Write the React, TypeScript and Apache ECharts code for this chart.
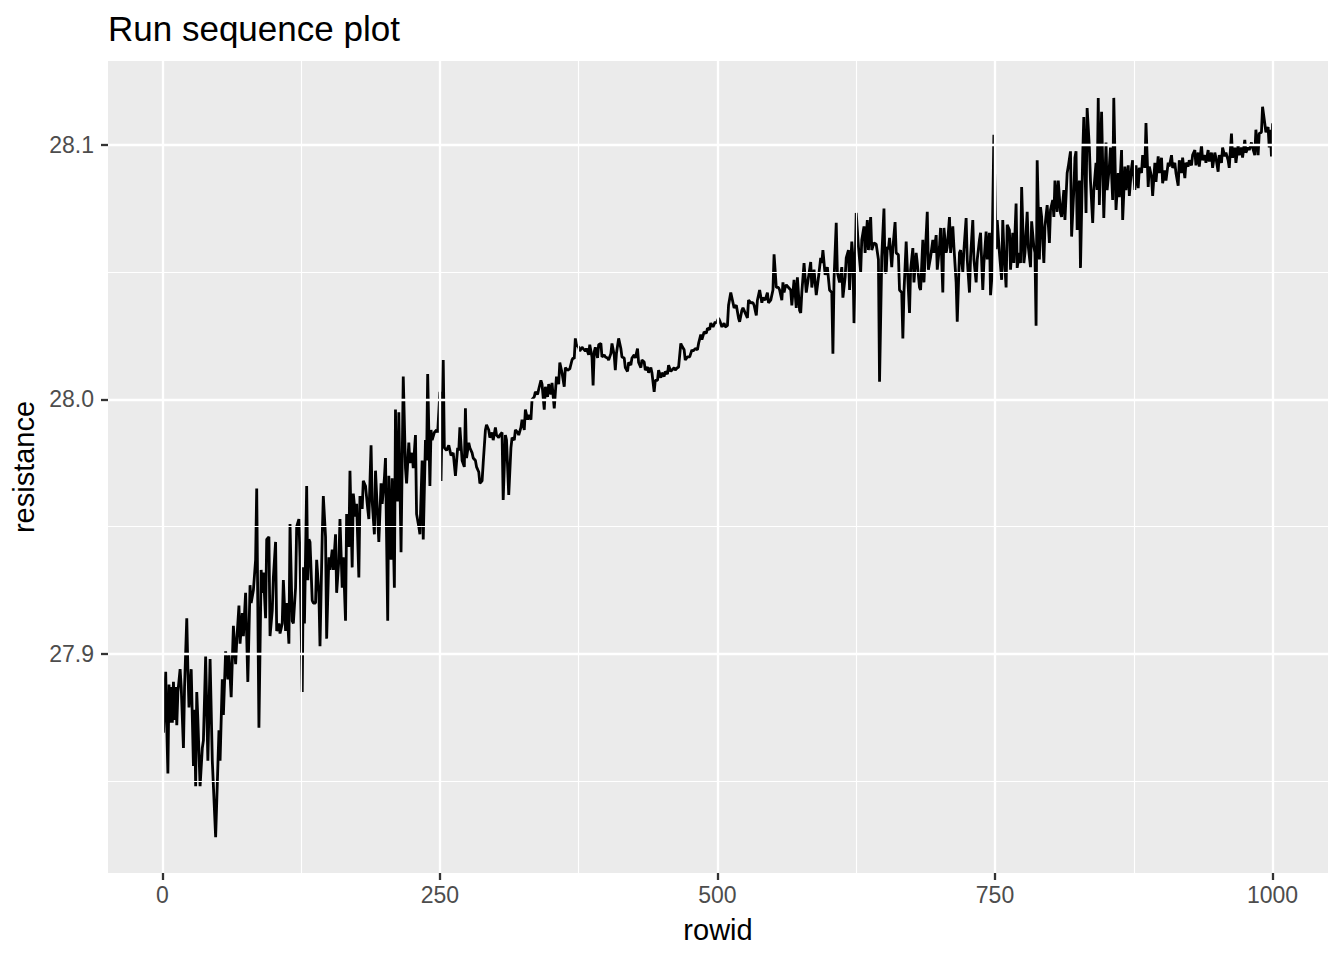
import React, { useEffect, useRef } from "react";
import * as echarts from "echarts";

// [rowid, resistance], split by range of rowid
const segA: [number, number][] = [
  [1,27.869],[3,27.893],[4,27.871],[5,27.853],[6,27.888],[7,27.873],[8,27.887],[9,27.873],[10,27.889],[11,27.874],
  [12,27.887],[13,27.872],[14,27.885],[16,27.894],[17,27.887],[19,27.863],[20,27.887],[22,27.914],[23,27.894],[24,27.879],
  [26,27.894],[28,27.856],[29,27.878],[30,27.848],[31,27.885],[32,27.874],[34,27.848],[36,27.863],[37,27.866],[39,27.899],
  [41,27.858],[43,27.898],[45,27.858],[48,27.828],[51,27.870],[52,27.858],[54,27.890],[55,27.876],[57,27.901],[59,27.890],
  [60,27.900],[62,27.883],[64,27.911],[66,27.896],[67,27.905],[69,27.919],[70,27.904],[72,27.916],[73,27.907],[75,27.924],
  [77,27.889],[79,27.927],[80,27.920],[82,27.925],[84,27.937],
  [85,27.965],[87,27.871],[89,27.933],[90,27.924],[91,27.932],[93,27.914],[94,27.945],[96,27.946],[97,27.907],[99,27.917],
  [100,27.930],[102,27.944],[103,27.909],[105,27.912],[106,27.908],[108,27.912],[109,27.929],[111,27.909],[112,27.920],[114,27.904],
  [115,27.951],[117,27.913],[118,27.912],[120,27.926],[121,27.950],[123,27.953],[124,27.938],[126,27.885],[127,27.934],[128,27.912],
  [130,27.966],[131,27.929],[132,27.945],[133,27.944],[135,27.921],[136,27.920],[138,27.920],[139,27.937],[141,27.924],[142,27.903],
  [144,27.946],[145,27.962],[147,27.946],[148,27.906],[150,27.938],[151,27.933],[153,27.941],[154,27.933],[156,27.947],[157,27.924],
  [159,27.937],[160,27.953],[162,27.926],[163,27.938],[165,27.913],[166,27.955],[168,27.942],[169,27.972],[171,27.934],[172,27.963],
  [174,27.954],[175,27.959],[177,27.930],[178,27.962],[180,27.957],[181,27.968],[183,27.966],[185,27.957],[186,27.953],[188,27.982],
  [189,27.960],[191,27.947],[192,27.972],[195,27.944],[197,27.967],[198,27.959],[200,27.969],[201,27.977],[203,27.913],[204,27.970],
  [206,27.937],[207,27.969],[209,27.926],[210,27.996],[211,27.963],[212,27.960],[213,27.995],[215,27.940],[217,28.009],[219,27.973],
  [220,27.967],[222,27.983],[223,27.975],[225,27.979],[226,27.973],[228,27.986],[229,27.955],[231,27.950],[232,27.947],[234,27.976],
  [235,27.945],[237,27.984],[238,27.976],[239,28.010],[241,27.966],[242,27.988],[243,27.984],[245,27.987],[247,27.988],[248,27.987],
  [250,28.003]
];

const segB: [number, number][] = [
  [251,27.968],[253,28.0155],[254,27.981],[256,27.980],[258,27.982],[260,27.978],[262,27.979],[264,27.970],[266,27.981],[267,27.980],
  [268,27.989],[270,27.976],[272,27.9735],[273,27.9965],[274,27.977],[276,27.983],[277,27.981],[279,27.979],[280,27.977],[282,27.976],
  [283,27.9735],[285,27.9715],[286,27.967],[288,27.968],[289,27.975],[291,27.988],[292,27.990],[294,27.988],[295,27.985],[297,27.987],
  [298,27.984],[300,27.989],[301,27.986],[303,27.985],[304,27.986],[306,27.987],[307,27.9605],[309,27.986],[310,27.984],[312,27.9625],
  [314,27.981],[315,27.985],[317,27.984],[318,27.988],[320,27.987],[321,27.986],[323,27.989],[324,27.992],[326,27.988],[327,27.996],
  [329,27.992],[330,27.994],[332,27.992],[333,28.000],[335,28.001],[336,28.003],[338,28.002],[339,28.004],[341,28.0075],[342,28.006],
  [344,27.996],[345,28.005],[347,28.001],[348,28.006],[350,28.002],[351,28.0065],[353,27.9965],[355,28.009],[357,28.006],[358,28.0145],
  [360,28.0105],[362,28.005],[363,28.0125],[365,28.0115],[367,28.012],[369,28.0155],[370,28.0163],[371,28.016],[372,28.024],[373,28.0215],
  [375,28.0205],[376,28.019],[378,28.0205],[379,28.020],[381,28.019],[382,28.020],[384,28.0175],[385,28.0215],[387,28.0167],[388,28.0055],
  [389,28.0187],[390,28.0205],[392,28.0163],[393,28.0215],[395,28.022],[396,28.0167],[398,28.0175],[399,28.0167],[401,28.0163],[402,28.0155],
  [404,28.018],[405,28.022],[407,28.0175],[408,28.0115],[409,28.018],[411,28.024],[413,28.020],[414,28.0167],[416,28.0163],[417,28.0125],
  [419,28.011],[420,28.0145],[422,28.0135],[423,28.0163],[425,28.0175],[426,28.0163],[428,28.020],[429,28.0145],[431,28.0125],[432,28.0155],
  [434,28.0147],[435,28.0115],[437,28.0127],[438,28.0105],[440,28.0125],[441,28.0105],[443,28.003],[444,28.0075],[446,28.0075],[447,28.0115],
  [449,28.0085],[450,28.0105],[452,28.009],[453,28.011],[455,28.010],[456,28.0135],[458,28.011],[459,28.0115],[461,28.0125],[462,28.0115],
  [464,28.0125],[465,28.0127],[467,28.022],[468,28.021],[470,28.0195],[471,28.0155],[473,28.0167],[475,28.0167],[477,28.0195],[478,28.019],
  [480,28.020],[482,28.0195],[483,28.022],[485,28.0255],[486,28.0235],[488,28.0265],[490,28.026],[491,28.028],[493,28.0275],[494,28.030],
  [496,28.0285],[498,28.0305],[499,28.030]
];

const segC: [number, number][] = [
  [501,28.032],[502,28.031],[504,28.0285],[506,28.030],[507,28.0285],[509,28.029],[510,28.037],[512,28.042],[514,28.038],[515,28.036],
  [517,28.037],[519,28.032],[520,28.0305],[522,28.035],[523,28.036],[525,28.034],[527,28.032],[528,28.039],[530,28.038],[532,28.038],
  [533,28.037],[535,28.033],[536,28.039],[538,28.043],[540,28.038],[541,28.040],[543,28.039],[545,28.042],[546,28.038],[548,28.039],
  [550,28.043],[551,28.057],[553,28.044],[555,28.044],[556,28.043],[558,28.039],[559,28.046],[560,28.042],[561,28.044],[562,28.045],
  [564,28.044],[566,28.043],[567,28.037],[569,28.047],[571,28.036],[572,28.048],[574,28.035],[575,28.034],[576,28.042],[578,28.0536],
  [580,28.042],[582,28.048],[584,28.054],[585,28.044],[587,28.051],[589,28.041],[591,28.048],[593,28.0556],[594,28.0536],[595,28.0587],
  [597,28.049],[599,28.052],[601,28.043],[603,28.042],[604,28.018],[605,28.047],[607,28.0694],[608,28.050],[610,28.046],[612,28.052],
  [613,28.040],[615,28.048],[616,28.0556],[618,28.0587],[619,28.043],[621,28.062],[622,28.056],[623,28.030],[625,28.0733],[627,28.060],
  [629,28.050],[630,28.0627],[632,28.068],[633,28.0576],[635,28.0705],[636,28.0587],[638,28.0717],[639,28.0587],[641,28.0615],[643,28.061],
  [645,28.055],[646,28.007],[648,28.056],[650,28.075],[651,28.050],[652,28.0497],[653,28.060],[654,28.059],[655,28.0635],[657,28.052],
  [658,28.0595],[660,28.0697],[661,28.0576],[663,28.0568],[664,28.043],[666,28.042],[667,28.024],[668,28.042],[670,28.062],[671,28.052],
  [673,28.034],[674,28.051],[676,28.0595],[677,28.046],[679,28.0576],[680,28.0536],[682,28.044],[683,28.043],[685,28.0627],[686,28.046],
  [688,28.0646],[689,28.0737],[690,28.051],[692,28.056],[694,28.0627],[695,28.0576],[697,28.0646],[698,28.051],[700,28.060],[701,28.0674],
  [703,28.042],[704,28.0674],[706,28.0576],[707,28.060],[709,28.0717],[710,28.0576],[712,28.068],[713,28.060],[715,28.046],[716,28.0305],
  [718,28.0576],[719,28.0587],[721,28.050],[722,28.0587],[724,28.0713],[725,28.055],[727,28.042],[728,28.056],[730,28.0705],[731,28.055],
  [733,28.046],[734,28.055],[736,28.0627],[737,28.0655],[739,28.043],[740,28.0536],[742,28.066],[743,28.055],[745,28.0655],[746,28.041],
  [747,28.047],[749,28.104]
];

const segD: [number, number][] = [
  [751,28.059],[752,28.0705],[753,28.064],[754,28.0576],[756,28.047],[757,28.0705],[758,28.0587],[760,28.044],[761,28.0686],[763,28.0666],
  [764,28.051],[766,28.0655],[767,28.0536],[769,28.077],[770,28.0517],[772,28.0576],[773,28.0536],[774,28.0835],[776,28.0536],[777,28.0576],
  [779,28.0737],[780,28.060],[782,28.052],[783,28.070],[785,28.060],[786,28.0576],[787,28.029],[788,28.094],[790,28.055],[791,28.0756],
  [792,28.0717],[794,28.0536],[795,28.068],[797,28.0764],[799,28.0615],[800,28.0745],[802,28.0784],[803,28.0717],[804,28.086],[806,28.0737],
  [807,28.086],[809,28.0733],[810,28.0717],[812,28.0823],[813,28.0705],[815,28.089],[816,28.0915],[818,28.0975],[819,28.064],[821,28.0823],
  [822,28.095],[823,28.0975],[824,28.0666],[826,28.086],[827,28.0517],[829,28.096],[830,28.111],[832,28.0733],[833,28.1145],[835,28.099],
  [836,28.086],[838,28.0694],[839,28.0823],[841,28.093],[842,28.0823],[843,28.1185],[844,28.0764],[846,28.113],[848,28.0713],[850,28.101],
  [851,28.0823],[853,28.0915],[854,28.099],[856,28.0784],[857,28.1185],[859,28.0745],[861,28.089],[862,28.0795],[864,28.098],[865,28.0705],
  [867,28.0915],[868,28.0823],[870,28.092],[871,28.080],[873,28.091],[874,28.094],[876,28.0823],[877,28.092],[879,28.083],[880,28.091],
  [882,28.089],[883,28.096],[885,28.091],[886,28.1086],[888,28.0835],[889,28.0915],[891,28.0875],[892,28.080],[894,28.093],[895,28.0855],
  [897,28.0955],[898,28.089],[900,28.095],[901,28.085],[903,28.090],[904,28.086],[906,28.093],[907,28.0915],[909,28.096],[910,28.091],
  [912,28.093],[913,28.089],[915,28.084],[916,28.094],[918,28.089],[919,28.095],[921,28.087],[922,28.093],[924,28.0915],[925,28.094],
  [927,28.092],[928,28.096],[930,28.098],[931,28.092],[933,28.097],[934,28.0915],[936,28.100],[937,28.094],[939,28.096],[940,28.093],
  [942,28.098],[943,28.0935],[945,28.097],[946,28.091],[948,28.097],[949,28.095],[951,28.0895],[952,28.096],[954,28.093],[955,28.099],
  [957,28.0955],[958,28.097],[960,28.094],[961,28.091],[963,28.1045],[964,28.095],[966,28.099],[967,28.093],[969,28.100],[970,28.096],
  [972,28.099],[973,28.095],[975,28.102],[976,28.097],[978,28.099],[979,28.098],[981,28.101],[982,28.099],[984,28.096],[985,28.106],
  [987,28.096],[988,28.1045],[990,28.105],[991,28.115],[993,28.1085],[994,28.105],[996,28.107],[997,28.099],[998,28.106],[999,28.0955],
  [1000,28.1085]
];

const xTicks = [0, 250, 500, 750, 1000];
const xMinorBreaks = [125, 375, 625, 875];
const yTicks = [27.9, 28.0, 28.1];
const yMinorBreaks = [27.85, 27.95, 28.05];

const FONT = "'Liberation Sans', Arial, Helvetica, sans-serif";

export default function App() {
  const ref = useRef<HTMLDivElement>(null);

  useEffect(() => {
    document.body.style.margin = "0";
    const el = ref.current;
    if (!el) return;
    const chart = echarts.init(el, null, { renderer: "svg" });
    const data = [...segA, ...segB, ...segC, ...segD];
    const major = 2.3;
    const minor = 1.15;
    const gridLines: any[] = [
      ...xMinorBreaks.map((v) => ({ xAxis: v, lineStyle: { width: minor, color: "#fff", type: "solid" } })),
      ...yMinorBreaks.map((v) => ({ yAxis: v, lineStyle: { width: minor, color: "#fff", type: "solid" } })),
      ...xTicks.map((v) => ({ xAxis: v, lineStyle: { width: major, color: "#fff", type: "solid" } })),
      ...yTicks.map((v) => ({ yAxis: v, lineStyle: { width: major, color: "#fff", type: "solid" } })),
    ];
    chart.setOption({
      animation: false,
      title: {
        text: "Run sequence plot",
        left: 103,
        top: 6,
        textStyle: { fontSize: 35, fontWeight: "normal", color: "#000", fontFamily: FONT },
      },
      grid: {
        left: 108,
        right: 16,
        top: 61,
        bottom: 87,
        show: true,
        backgroundColor: "#ebebeb",
        borderWidth: 0,
        containLabel: false,
      },
      xAxis: {
        type: "value",
        min: -48.95,
        max: 1049.95,
        name: "rowid",
        nameLocation: "middle",
        nameGap: 42,
        nameTextStyle: { fontSize: 29, color: "#000", fontFamily: FONT },
        axisLine: { show: true, onZero: false, lineStyle: { color: "rgba(0,0,0,0)", width: 0 } },
        axisTick: {
          show: true,
          inside: false,
          customValues: xTicks,
          length: 7,
          lineStyle: { color: "#333333", width: major },
        },
        axisLabel: {
          customValues: xTicks,
          fontSize: 23,
          color: "#4d4d4d",
          margin: 10,
          fontFamily: FONT,
          formatter: (v: number) => String(Math.round(v)),
        },
        splitLine: { show: false },
      },
      yAxis: {
        type: "value",
        min: 27.8139,
        max: 28.133,
        name: "resistance",
        nameLocation: "middle",
        nameGap: 64,
        nameTextStyle: { fontSize: 29, color: "#000", fontFamily: FONT },
        axisLine: { show: true, onZero: false, lineStyle: { color: "rgba(0,0,0,0)", width: 0 } },
        axisTick: {
          show: true,
          inside: false,
          customValues: yTicks,
          length: 7,
          lineStyle: { color: "#333333", width: major },
        },
        axisLabel: {
          customValues: yTicks,
          fontSize: 23,
          color: "#4d4d4d",
          margin: 14,
          fontFamily: FONT,
          formatter: (v: number) => v.toFixed(1),
        },
        splitLine: { show: false },
      },
      series: [
        {
          type: "line",
          data: [[0, 28.0]],
          symbol: "none",
          lineStyle: { opacity: 0 },
          silent: true,
          z: 1,
          markLine: {
            silent: true,
            animation: false,
            symbol: ["none", "none"],
            label: { show: false },
            emphasis: { disabled: true },
            data: gridLines,
          },
        },
        {
          type: "line",
          data,
          symbol: "none",
          silent: true,
          z: 2,
          lineStyle: { color: "#000000", width: 2.8 },
        },
      ],
    });
    return () => chart.dispose();
  }, []);

  return <div ref={ref} style={{ width: 1344, height: 960 }} />;
}
